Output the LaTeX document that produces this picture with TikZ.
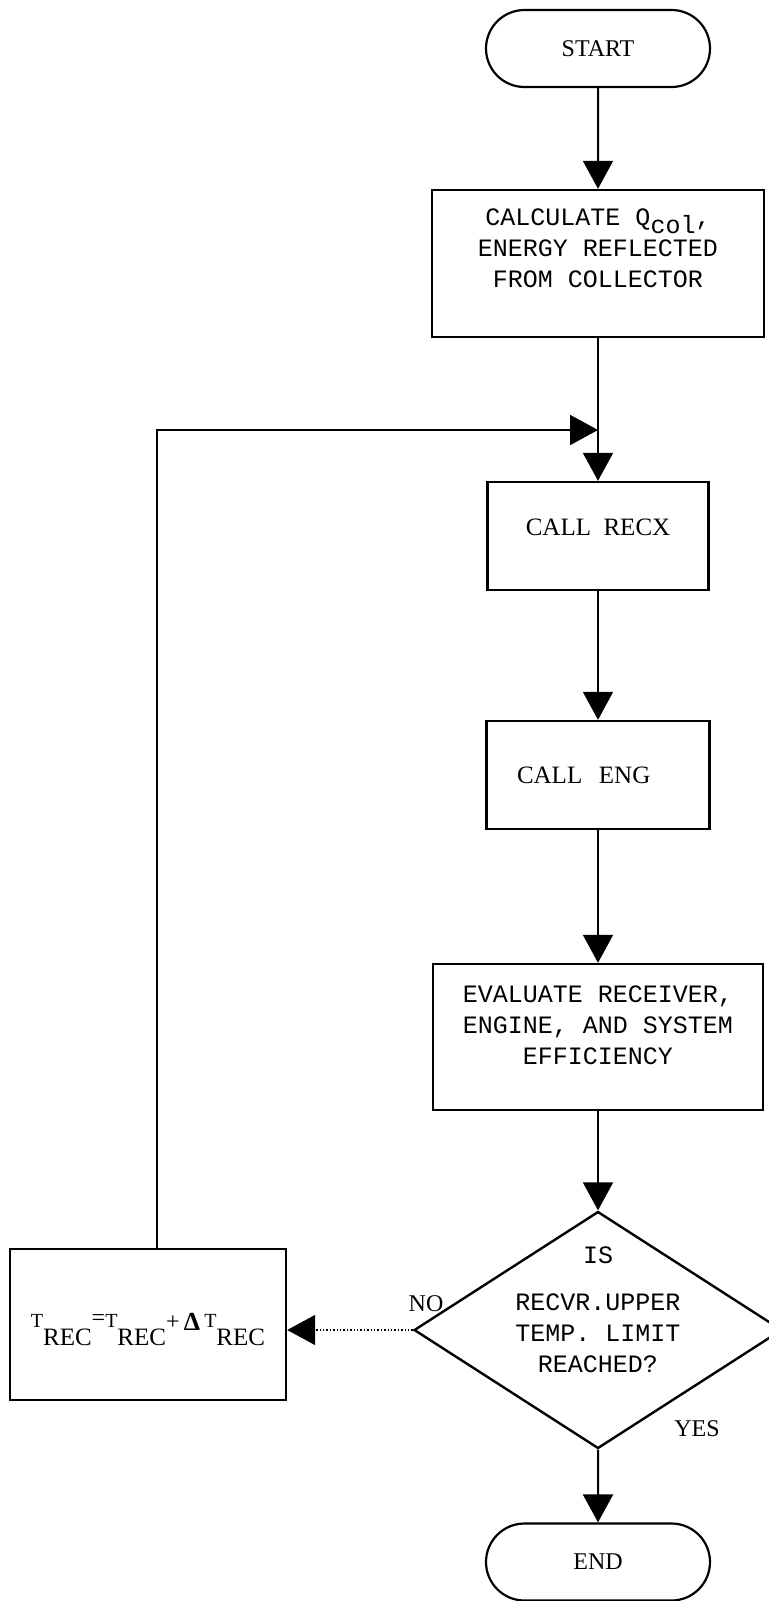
\documentclass[tikz,border=0pt]{standalone}
\usepackage{fontspec}
\setmainfont{Liberation Serif}
\setmonofont{Liberation Mono}
\usetikzlibrary{arrows.meta, shapes.geometric, shapes.misc}
\newcommand{\tyfont}{\ttfamily\fontsize{12.5}{15.5}\selectfont}
\newcommand{\sefont}{\rmfamily\fontsize{12.5}{15}\selectfont}
\newcommand{\up}[3]{\raisebox{#1}{\fontsize{#2}{#2}\selectfont #3}}
\tikzset{
  term/.style={draw, line width=1.1pt, rounded rectangle, minimum width=112pt,
               minimum height=38.5pt, inner sep=0pt, font=\rmfamily\fontsize{12}{14}\selectfont},
  proc/.style={draw, line width=1.2pt, rectangle, inner sep=4pt, align=center},
  dec/.style={draw, line width=1.2pt, diamond, aspect=1.55, inner sep=0pt, minimum width=184pt,
              minimum height=118.5pt, align=center, font=\tyfont},
  flow/.style={-{Triangle[length=14pt, width=15pt]}, line width=1pt},
  flowd/.style={-{Triangle[length=14pt, width=15pt]}, line width=0.7pt, densely dotted},
  lbl/.style={font=\rmfamily\fontsize{12}{14}\selectfont, inner sep=0pt},
}
\begin{document}
\begin{tikzpicture}[x=0.5pt, y=-0.5pt]
  \useasboundingbox (0,0) rectangle (768,1601);
  % main column
  \node[term] (start) at (598,48.5) {START};
  \node[proc, font=\tyfont, minimum width=166pt, minimum height=73.5pt, text height=40pt, text depth=15.8pt]
    (colq) at (598,263.5) {CALCULATE Q\raisebox{-4pt}{col},\\ENERGY REFLECTED\\FROM COLLECTOR};
  \node[proc, font=\sefont, minimum width=110.5pt, minimum height=54pt, text height=8.5pt, text depth=9pt]
    (recx) at (598,536) {CALL\ \ RECX};
  \node[proc, font=\sefont, minimum width=111.5pt, minimum height=54pt, text width=81pt, inner xsep=15.25pt, align=left]
    (eng) at (598,775) {CALL\ \ ENG};
  \node[proc, font=\tyfont, minimum width=165pt, minimum height=73pt, text height=40pt, text depth=12.8pt]
    (eval) at (598,1037) {EVALUATE RECEIVER,\\ENGINE, AND SYSTEM\\EFFICIENCY};
  \node[dec, text height=53.5pt, text depth=10.8pt] (test) at (598,1330) {IS\\[8pt]RECVR.UPPER\\TEMP. LIMIT\\REACHED?};
  \node[term] (stop) at (598,1562) {END};
  % loop back
  \node[proc, font=\rmfamily\fontsize{12.5}{15}\selectfont, minimum width=138pt, minimum height=75.5pt, text height=21pt, text depth=0pt]
    (inc) at (148,1324.5) {\up{9pt}{10}{T}REC\up{10pt}{12}{=}\up{9pt}{10}{T}REC\up{8pt}{12}{+}\,\up{7.5pt}{13}{\bfseries Δ}\,\up{9pt}{10}{T}REC};
  \node[lbl] (no) at (426,1304) {NO};
  \node[lbl] (yes) at (697,1429) {YES};
  \coordinate (join) at (598,430);
  \draw[flow] (start) -- (colq);
  \draw[flow] (colq) -- (recx);
  \draw[flow] (recx) -- (eng);
  \draw[flow] (eng) -- (eval);
  \draw[flow] (eval) -- (test);
  \draw[flow] (test) -- (stop);
  \draw[flow] ([xshift=4.5pt]inc.north) |- (join);
  \draw[flowd] (test.west) -- (test.west -| inc.east);
\end{tikzpicture}
\end{document}
